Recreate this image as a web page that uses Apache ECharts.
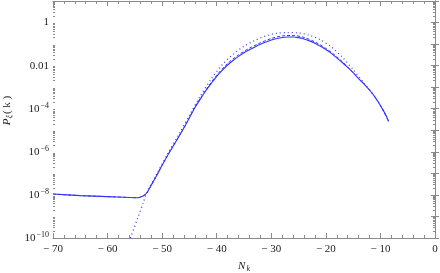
<!DOCTYPE html>
<html>
<head>
<meta charset="utf-8">
<script src="https://cdn.jsdelivr.net/npm/echarts@6/dist/echarts.min.js"></script>
<style>html,body{margin:0;padding:0;background:#fff}#c{width:440px;height:273px}</style>
</head>
<body>
<div id="c"></div>
<script>
// N_k values and P_xi(k) for each curve
var nkSolid = [-70,-65,-60,-56,-54.5,-53.5,-52.8,-52,-51,-50,-49,-48,-47,-46,-45,-44,-43,-42,-41,-40,-39,-38,-37,-36,-35,-34,-33,-32,-31,-30,-29,-28,-27,-26,-25,-24,-23,-22,-21,-20,-19,-18,-17,-16,-15,-14,-13,-12,-11,-10,-9,-8.5];
var pSolid  = [1.1e-8,9.3e-9,8.3e-9,7.6e-9,7.4e-9,8.9e-9,1.26e-8,2.8e-8,7.9e-8,2.4e-7,6.8e-7,1.8e-6,4.8e-6,1.3e-5,3.8e-5,1.12e-4,2.8e-4,6.8e-4,1.5e-3,3.2e-3,6.0e-3,1.07e-2,1.74e-2,2.7e-2,4.0e-2,5.5e-2,7.4e-2,9.8e-2,0.126,0.155,0.182,0.204,0.214,0.214,0.2,0.174,0.141,0.11,7.9e-2,5.6e-2,3.7e-2,2.3e-2,1.4e-2,8.3e-3,4.7e-3,2.5e-3,1.4e-3,7.4e-4,3.5e-4,1.4e-4,5.0e-5,2.6e-5];
var nkDashed = [-70,-65,-60,-56,-54.5,-53.5,-52.8,-52,-51,-50,-49,-48,-47,-46,-45,-44,-42,-40,-38,-36,-34,-32,-30,-28,-26,-24,-22,-20,-18,-16,-14,-12,-10,-8.5];
var pDashed  = [1.1e-8,9.3e-9,8.3e-9,7.6e-9,7.4e-9,8.9e-9,1.26e-8,2.8e-8,7.9e-8,2.4e-7,6.8e-7,1.8e-6,4.8e-6,1.3e-5,3.8e-5,1.2e-4,7.4e-4,3.6e-3,1.26e-2,3.16e-2,6.5e-2,0.115,0.182,0.24,0.25,0.204,0.126,6.3e-2,2.6e-2,8.7e-3,2.5e-3,7.4e-4,1.4e-4,2.6e-5];
var nkDotted = [-55.8,-54.5,-53.5,-52.8,-51,-49,-47,-45,-43,-41,-39,-37,-35,-33,-31,-29,-27,-25,-23,-21,-19,-17,-15,-13,-11,-9,-8.5];
var pDotted  = [1e-10,8.1e-10,4.1e-9,1.3e-8,9.1e-8,8.1e-7,6.0e-6,5.0e-5,3.9e-4,2.4e-3,1.1e-2,3.4e-2,7.9e-2,0.148,0.24,0.316,0.34,0.33,0.257,0.158,7.4e-2,2.5e-2,6.6e-3,1.55e-3,3.5e-4,5.0e-5,2.6e-5];

// tick positions on the log axis
var decadeTicks = [1e-10,1e-9,1e-8,1e-7,1e-6,1e-5,1e-4,1e-3,1e-2,1e-1,1,10];
var minorMults = [2,3,4,5,6,7,8,9];
var minorTicks = [];
decadeTicks.slice(0, -1).forEach(function(d){ minorMults.forEach(function(m){ minorTicks.push(d*m); }); });

function pairs(xs, ys){ return xs.map(function(x,i){ return [x, ys[i]]; }); }

var FONT = 'Liberation Serif';
var blue = '#3535ff';
var axisGray = '#8a8a8a';

var chart = echarts.init(document.getElementById('c'), null, {renderer:'canvas'});

function ylab(v){
  var e = Math.round(Math.log10(v));
  if (e % 2 !== 0 || e > 0) return '';
  if (e === 0) return '1';
  if (e === -2) return '0.01';
  return '{b|10}{s|\u2212' + (-e) + '}';
}
function xlab(v){
  if (v === 0) return '0';
  return '\u2212 ' + Math.abs(v);
}

function logAxis(pos, ticks, len, showLine, labels){
  var ax = {
    type:'log', logBase:10, min:1e-10, max:10, interval:1, position:pos,
    axisLine:{show:showLine, lineStyle:{color:axisGray, width:1}},
    axisTick:{show:true, inside:true, length:len, customValues:ticks, lineStyle:{color:axisGray}},
    splitLine:{show:false}, axisLabel:{show:false}
  };
  if (labels) {
    ax.axisLabel = {formatter:ylab, margin:4, color:'#222', fontFamily:FONT, fontSize:11,
      rich:{b:{fontFamily:FONT,fontSize:11,color:'#222'}, s:{fontFamily:FONT,fontSize:8,color:'#222',verticalAlign:'top', padding:[0,0,6,1]}}};
    ax.name = '{p|P}{x|\u03be}{q|( k )}';
    ax.nameLocation = 'middle'; ax.nameGap = 36; ax.nameRotate = 90;
    ax.nameTextStyle = {padding:[0,0,0,18], rich:{p:{fontFamily:FONT,fontStyle:'italic',fontSize:11,color:'#222'},x:{fontFamily:FONT,fontStyle:'italic',fontSize:8,color:'#222',padding:[5,1,0,0]},q:{fontFamily:FONT,fontSize:11,color:'#222'}}};
  }
  return ax;
}

chart.setOption({
  animation:false,
  grid:{left:53, right:5, top:1, bottom:35, containLabel:false, outerBoundsMode:'none'},
  xAxis:[{
    type:'value', min:-70, max:0, interval:10,
    axisLine:{show:true, lineStyle:{color:axisGray, width:1}},
    axisTick:{show:true, inside:true, length:5, lineStyle:{color:axisGray}},
    minorTick:{show:true, splitNumber:5, length:3, lineStyle:{color:axisGray}},
    splitLine:{show:false},
    axisLabel:{formatter:xlab, margin:6, color:'#222', fontFamily:FONT, fontSize:11},
    name:'{n|N}{k|k}', nameLocation:'middle', nameGap:22,
    nameTextStyle:{rich:{n:{fontFamily:FONT,fontStyle:'italic',fontSize:11,color:'#222'},k:{fontFamily:FONT,fontStyle:'italic',fontSize:8,color:'#222',padding:[5,0,0,1]}}}
  },{
    type:'value', min:-70, max:0, interval:10, position:'top',
    axisLine:{show:true, lineStyle:{color:axisGray, width:1}},
    axisTick:{show:true, inside:true, length:5, lineStyle:{color:axisGray}},
    minorTick:{show:true, splitNumber:5, length:3, lineStyle:{color:axisGray}},
    splitLine:{show:false}, axisLabel:{show:false}
  }],
  yAxis:[
    logAxis('left', decadeTicks, 4, true, true),
    logAxis('right', decadeTicks, 4, true, false),
    logAxis('left', minorTicks, 2, false, false),
    logAxis('right', minorTicks, 2, false, false)
  ],
  series:[
    {type:'line', data:pairs(nkSolid,pSolid), smooth:0.2, symbol:'none', xAxisIndex:0, yAxisIndex:0,
     lineStyle:{color:blue, width:1.1}},
    {type:'line', data:pairs(nkDashed,pDashed), smooth:0.3, symbol:'none', xAxisIndex:0, yAxisIndex:0,
     lineStyle:{color:blue, width:1, type:[3,2]}},
    {type:'line', data:pairs(nkDotted,pDotted), smooth:0.3, symbol:'none', xAxisIndex:0, yAxisIndex:0,
     lineStyle:{color:blue, width:1.2, type:[1,3]}}
  ]
});
</script>
</body>
</html>
